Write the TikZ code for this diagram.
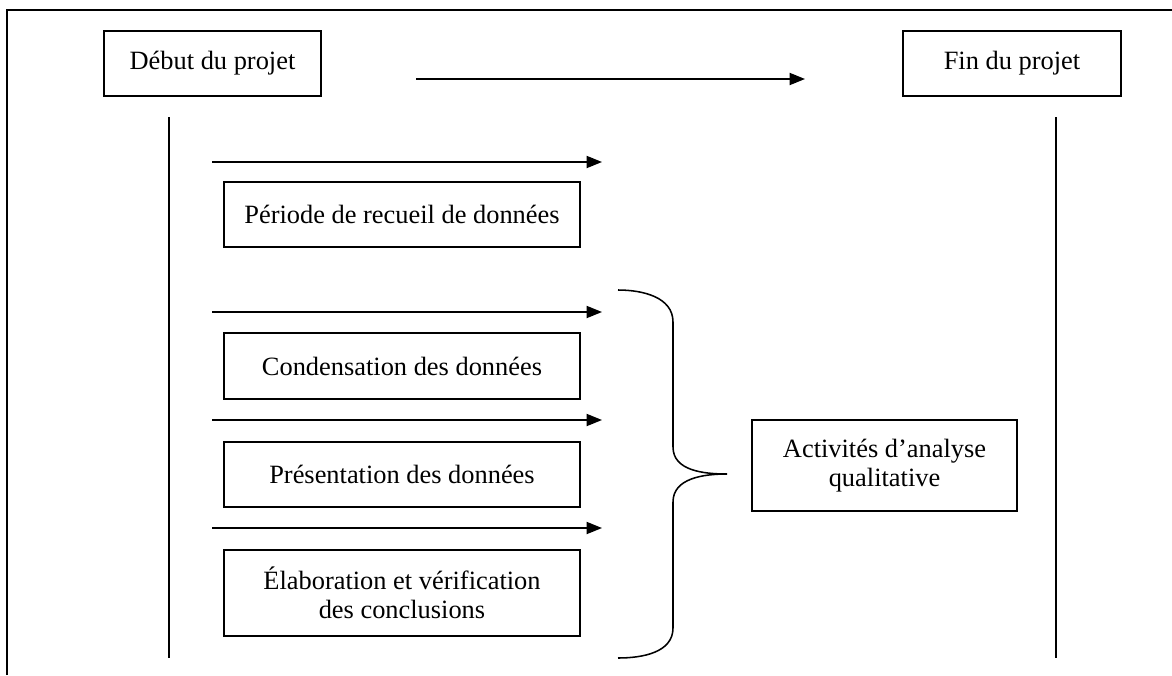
\documentclass[tikz,border=0pt]{standalone}
\usepackage{fontspec}
\setmainfont{Liberation Serif}
\usepackage{tikz}
\usetikzlibrary{arrows.meta}

\begin{document}
\begin{tikzpicture}[x=0.4545pt,y=0.4545pt,line width=0.7pt,
		every node/.style={font=\fontsize{12pt}{13pt}\selectfont},
		etape/.style={draw,inner sep=0pt,outer sep=0pt,align=center},
		fleche/.style={-{Triangle[length=7pt,width=5.5pt]}}
	]
	\useasboundingbox (0,0) rectangle (1172,-675);
	% cadre
	\draw (7,-675) -- (7,-10) -- (1172,-10);

	\node[etape,minimum width=98.6pt,minimum height=29.5pt] (debut) at (212.5,-63.5) {D\'ebut du projet};
	\node[etape,minimum width=99.1pt,minimum height=29.5pt] (fin) at (1012,-63.5) {Fin du projet};
	\coordinate (haut1) at (416,-79);
	\coordinate (haut2) at (805,-79);
	\draw[fleche] (haut1) -- (haut2);

	% lignes du projet
	\draw (169,-117) -- (169,-658);
	\draw (1056,-117) -- (1056,-658);

	\node[etape,minimum width=161.8pt,minimum height=29.5pt] (recueil) at (402,-214.5) {P\'eriode de recueil de donn\'ees};
	\node[etape,minimum width=161.8pt,minimum height=30pt] (condensation) at (402,-366) {Condensation des donn\'ees};
	\node[etape,minimum width=161.8pt,minimum height=29.5pt] (presentation) at (402,-474.5) {Pr\'esentation des donn\'ees};
	\node[etape,minimum width=161.8pt,minimum height=39.1pt] (elaboration) at (402,-593) {\'Elaboration et v\'erification\\des conclusions};

	\foreach \y in {162,312,420,528}
		\draw[fleche] (212,-\y) -- (602,-\y);

	% accolade
	\draw (618,-290) to[out=0,in=90] (673,-322) -- (673,-447)
		to[out=-90,in=180] (727,-474) to[out=180,in=90] (673,-502) -- (673,-628)
		to[out=-90,in=0] (618,-658);

	\node[etape,minimum width=120.4pt,minimum height=41.4pt] (activites) at (884.5,-465.5) {Activit\'es d'analyse\\qualitative};
\end{tikzpicture}
\end{document}
